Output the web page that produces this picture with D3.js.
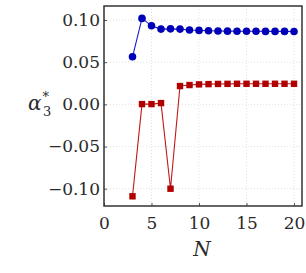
<html>
<head>
<meta charset="utf-8">
<script src='https://d3js.org/d3.v7.min.js'></script>
<style>
body { margin: 0; background: white; }
svg text { font-family: 'DejaVu Serif', serif !important; fill: #2a2a2a; }
</style>
</head>
<body onload='init()'>
<svg class="chart" width=306 height=273></svg>
<script>

const nValues = [3,4,5,6,7,8,9,10,11,12,13,14,15,16,17,18,19,20];
const blueVals = [0.0564,0.1019,0.0931,0.0892,0.0895,0.0892,0.0882,0.0877,0.0873,0.0870,0.0868,0.0867,0.0866,0.0866,0.0865,0.0865,0.0865,0.0864];
const redVals = [-0.1090,0.0003,0.0003,0.0015,-0.1000,0.0217,0.0229,0.0237,0.0240,0.0242,0.0243,0.0244,0.0244,0.0244,0.0244,0.0244,0.0244,0.0244];
const xTicks = [0,5,10,15,20];
const yTicks = [-0.10,-0.05,0.00,0.05,0.10];

function init() {
  const svg = d3.select(".chart");
  const left = 104, right = 302, top = 6, bottom = 206;

  const x = d3.scaleLinear().domain([0, 20.84]).range([left, right]);
  const y = d3.scaleLinear().domain([-0.1205, 0.1166]).range([bottom, top]);

  // grid
  svg.append("g").selectAll("line.gx").data(xTicks).enter().append("line")
    .attr("x1", d => x(d)).attr("x2", d => x(d))
    .attr("y1", top).attr("y2", bottom)
    .attr("stroke", "#d8d8d8").attr("stroke-width", 0.8).attr("stroke-dasharray", "1,2");
  svg.append("g").selectAll("line.gy").data(yTicks).enter().append("line")
    .attr("x1", left).attr("x2", right)
    .attr("y1", d => y(d)).attr("y2", d => y(d))
    .attr("stroke", "#d8d8d8").attr("stroke-width", 0.8).attr("stroke-dasharray", "1,2");

  // axes (labels only, frame drawn separately)
  const xAxis = svg.append("g")
    .attr("transform", "translate(0," + bottom + ")")
    .call(d3.axisBottom(x).tickValues(xTicks).tickSize(-3).tickPadding(11).tickFormat(d3.format("d")));
  const yAxis = svg.append("g")
    .attr("transform", "translate(" + left + ",0)")
    .call(d3.axisLeft(y).tickValues(yTicks).tickSize(-3).tickPadding(4)
      .tickFormat(d => d3.format(".2f")(d).replace("-", "\u2212")));
  [xAxis, yAxis].forEach(a => {
    a.attr("font-family", null).attr("font-size", null);
    a.select(".domain").remove();
    a.selectAll("line").attr("stroke", "#555");
    a.selectAll("text").attr("font-size", 17);
  });
  xAxis.selectAll("text").attr("dy", "0.71em");

  const line = d3.line().x(d => x(d[0])).y(d => y(d[1]));
  const blue = nValues.map((n, i) => [n, blueVals[i]]);
  const red = nValues.map((n, i) => [n, redVals[i]]);

  svg.append("path").datum(blue).attr("d", line)
    .attr("fill", "none").attr("stroke", "#1a1acc").attr("stroke-width", 1.1);
  svg.append("path").datum(red).attr("d", line)
    .attr("fill", "none").attr("stroke", "#c01818").attr("stroke-width", 1.1);

  svg.append("g").selectAll("circle").data(blue).enter().append("circle")
    .attr("cx", d => x(d[0])).attr("cy", d => y(d[1])).attr("r", 3.8)
    .attr("fill", "#0000b8");
  svg.append("g").selectAll("rect").data(red).enter().append("rect")
    .attr("x", d => x(d[0]) - 3.2).attr("y", d => y(d[1]) - 3.2)
    .attr("width", 6.4).attr("height", 6.4)
    .attr("fill", "#b00000");

  // frame
  svg.append("rect")
    .attr("x", left).attr("y", top).attr("width", right - left).attr("height", bottom - top)
    .attr("fill", "none").attr("stroke", "#333").attr("stroke-width", 1.5);

  // axis labels
  svg.append("text")
    .attr("x", 202).attr("y", 256)
    .attr("text-anchor", "middle").attr("font-size", 20).attr("font-style", "italic")
    .text("N");

  const yl = svg.append("text")
    .attr("x", 28).attr("y", 110)
    .attr("font-size", 20).attr("font-style", "italic");
  yl.append("tspan").text("\u03b1");
  yl.append("tspan").attr("font-size", 13).attr("font-style", "normal").attr("dx", 1).attr("dy", -9).text("*");
  yl.append("tspan").attr("font-size", 13).attr("font-style", "normal").attr("dx", -6).attr("dy", 15).text("3");
}
</script>
</body>
</html>
